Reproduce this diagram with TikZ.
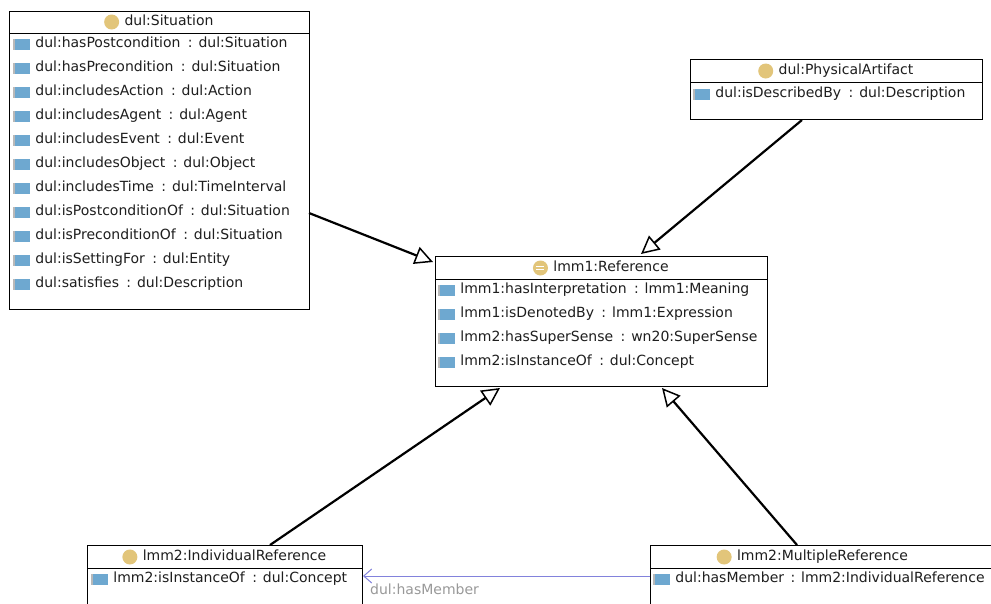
\documentclass[tikz,border=0pt]{standalone}
\usepackage{fontspec}
\setmainfont{DejaVu Sans}
\usepackage{tikz}
\usetikzlibrary{positioning,calc,arrows.meta}

\definecolor{clsyellow}{RGB}{226,197,122}
\definecolor{propblue}{RGB}{110,168,208}
\definecolor{txtgray}{RGB}{30,30,30}
\definecolor{assocblue}{RGB}{130,130,220}

\tikzset{
  cls/.style={draw, line width=1pt, fill=white, anchor=north west, inner sep=0pt, outer sep=0pt},
  hdr/.style={inner sep=0pt, text height=10.5pt, text depth=3pt, font=\fontsize{14}{16}\selectfont, text=txtgray},
  pname/.style={inner sep=0pt, anchor=west, text height=10.5pt, text depth=3pt, font=\fontsize{14}{16}\selectfont, text=txtgray},
  cicon/.style={circle, fill=clsyellow, minimum size=15pt, inner sep=0pt},
  picon/.style={rectangle, fill=propblue, minimum width=17pt, minimum height=11pt, inner sep=0pt,
    path picture={\fill[gray!55] (path picture bounding box.south west) rectangle ([xshift=2pt]path picture bounding box.north west);}},
  gen/.style={line width=2.2pt, -{Triangle[open,length=18pt,width=18pt,line width=1.5pt]}},
  assoc/.style={line width=1pt, assocblue, -{Straight Barb[length=8pt,width=14pt,line width=1pt]}}
}

\begin{document}
\begin{tikzpicture}[x=1pt,y=-1pt]
        \fill[white] (0,0) rectangle (991,603);
        \useasboundingbox (0,0) rectangle (991,603);
        % dul:Situation
        \node [cls, minimum width=300pt, minimum height=298pt] (sit) at (9,11) {};
        \draw [line width=1pt] ($(sit.north west)+(0,22)$) -- ($(sit.north east)+(0,22)$);
        \node [hdr] (sit-t) at ($(sit.north)+(10,11)$) {dul:Situation};
        \node [cicon, left=5pt of sit-t] (sit-c) {};
        \foreach \n/\t [count=\i from 0] in {dul:hasPostcondition/dul:Situation, dul:hasPrecondition/dul:Situation,
            dul:includesAction/dul:Action, dul:includesAgent/dul:Agent, dul:includesEvent/dul:Event,
            dul:includesObject/dul:Object, dul:includesTime/dul:TimeInterval, dul:isPostconditionOf/dul:Situation,
            dul:isPreconditionOf/dul:Situation, dul:isSettingFor/dul:Entity, dul:satisfies/dul:Description} {
          \node [picon] (sit-i\i) at (21.5,{44+24*\i}) {};
          \node [pname, right=5pt of sit-i\i] (sit-n\i) {\n};
          \node [pname, right=7pt of sit-n\i] (sit-y\i) {: \t};
        }
        % dul:PhysicalArtifact
        \node [cls, minimum width=292pt, minimum height=60pt] (phys) at (690,59) {};
        \draw [line width=1pt] ($(phys.north west)+(0,23)$) -- ($(phys.north east)+(0,23)$);
        \node [hdr] (phys-t) at ($(phys.north)+(10,12)$) {dul:PhysicalArtifact};
        \node [cicon, left=5pt of phys-t] (phys-c) {};
        \node [picon] (phys-i0) at (701.5,94) {};
        \node [pname, right=5pt of phys-i0] (phys-n0) {dul:isDescribedBy};
        \node [pname, right=7pt of phys-n0] (phys-y0) {: dul:Description};
        % lmm1:Reference
        \node [cls, minimum width=332pt, minimum height=130pt] (ref) at (435,256) {};
        \draw [line width=1pt] ($(ref.north west)+(0,23)$) -- ($(ref.north east)+(0,23)$);
        \node [hdr] (ref-t) at ($(ref.north)+(10,12)$) {lmm1:Reference};
        \node [cicon, left=5pt of ref-t, path picture={
            \draw[white, line width=1.3pt] ([xshift=-4pt,yshift=1.8pt]path picture bounding box.center) -- +(8pt,0);
            \draw[white, line width=1.3pt] ([xshift=-4pt,yshift=-1.8pt]path picture bounding box.center) -- +(8pt,0);}] (ref-c) {};
        \foreach \n/\t [count=\i from 0] in {lmm1:hasInterpretation/lmm1:Meaning, lmm1:isDenotedBy/lmm1:Expression,
            lmm2:hasSuperSense/wn20:SuperSense, lmm2:isInstanceOf/dul:Concept} {
          \node [picon] (ref-i\i) at (446.5,{290+24*\i}) {};
          \node [pname, right=5pt of ref-i\i] (ref-n\i) {\n};
          \node [pname, right=7pt of ref-n\i] (ref-y\i) {: \t};
        }
        % lmm2:IndividualReference
        \node [cls, minimum width=275pt, minimum height=80pt] (ind) at (87,545) {};
        \draw [line width=1pt] ($(ind.north west)+(0,23)$) -- ($(ind.north east)+(0,23)$);
        \node [hdr] (ind-t) at ($(ind.north)+(10,12)$) {lmm2:IndividualReference};
        \node [cicon, left=5pt of ind-t] (ind-c) {};
        \node [picon] (ind-i0) at (99.5,579) {};
        \node [pname, right=5pt of ind-i0] (ind-n0) {lmm2:isInstanceOf};
        \node [pname, right=7pt of ind-n0] (ind-y0) {: dul:Concept};
        % lmm2:MultipleReference
        \node [cls, minimum width=345pt, minimum height=80pt] (mul) at (650,545) {};
        \draw [line width=1pt] ($(mul.north west)+(0,23)$) -- ($(mul.north east)+(0,23)$);
        \node [hdr] (mul-t) at ($(mul.north)+(0,12)$) {lmm2:MultipleReference};
        \node [cicon, left=5pt of mul-t] (mul-c) {};
        \node [picon] (mul-i0) at (661.5,579) {};
        \node [pname, right=5pt of mul-i0] (mul-n0) {dul:hasMember};
        \node [pname, right=6pt of mul-n0] (mul-y0) {: lmm2:IndividualReference};
        % 继承
        \draw [gen] ($(sit.north east)+(0,202)$) -- ($(ref.north west)+(-2,6)$);
        \draw [gen] ($(phys.south west)+(112,1)$) -- ($(ref.north west)+(206,-2)$);
        \draw [gen] ($(ind.north west)+(183,0)$) -- ($(ref.south west)+(65,2)$);
        \draw [gen] ($(mul.north west)+(147,0)$) -- ($(ref.south west)+(227,2)$);
        % dul:hasMember
        \draw [assoc] ($(mul.north west)+(0,31)$) -- ($(ind.north east)+(1,31)$);
        \node [pname, text=gray!80] (has-l) at (370,591) {dul:hasMember};
    \end{tikzpicture}
\end{document}
